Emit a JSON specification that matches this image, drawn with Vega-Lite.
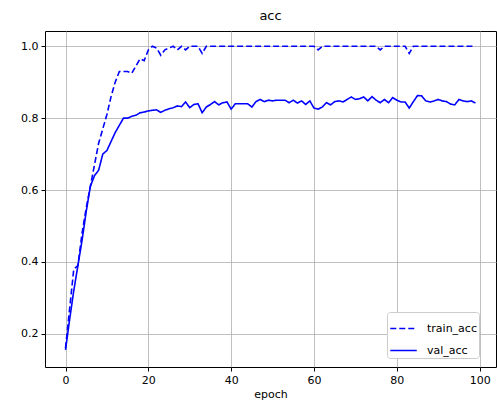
{
  "$schema": "https://vega.github.io/schema/vega-lite/v6.json",
  "width": 451,
  "height": 336,
  "autosize": {"type": "none"},
  "padding": {"left": 45, "top": 31, "right": 1, "bottom": 40},
  "title": {"text": "acc", "fontSize": 13, "font": "DejaVu Sans", "fontWeight": "normal", "color": "black", "offset": 8, "anchor": "middle"},
  "data": {"values": [
    {"epoch":0,"series":"train_acc","acc":0.16},{"epoch":1,"series":"train_acc","acc":0.27},{"epoch":2,"series":"train_acc","acc":0.38},{"epoch":3,"series":"train_acc","acc":0.39},{"epoch":4,"series":"train_acc","acc":0.48},
    {"epoch":5,"series":"train_acc","acc":0.55},{"epoch":6,"series":"train_acc","acc":0.61},{"epoch":7,"series":"train_acc","acc":0.67},{"epoch":8,"series":"train_acc","acc":0.73},{"epoch":9,"series":"train_acc","acc":0.77},
    {"epoch":10,"series":"train_acc","acc":0.81},{"epoch":11,"series":"train_acc","acc":0.86},{"epoch":12,"series":"train_acc","acc":0.90},{"epoch":13,"series":"train_acc","acc":0.93},{"epoch":14,"series":"train_acc","acc":0.93},
    {"epoch":15,"series":"train_acc","acc":0.93},{"epoch":16,"series":"train_acc","acc":0.925},{"epoch":17,"series":"train_acc","acc":0.945},{"epoch":18,"series":"train_acc","acc":0.965},{"epoch":19,"series":"train_acc","acc":0.96},
    {"epoch":20,"series":"train_acc","acc":0.99},{"epoch":21,"series":"train_acc","acc":1.0},{"epoch":22,"series":"train_acc","acc":0.995},{"epoch":23,"series":"train_acc","acc":0.975},{"epoch":24,"series":"train_acc","acc":0.99},
    {"epoch":25,"series":"train_acc","acc":0.995},{"epoch":26,"series":"train_acc","acc":1.0},{"epoch":27,"series":"train_acc","acc":0.99},{"epoch":28,"series":"train_acc","acc":1.0},{"epoch":29,"series":"train_acc","acc":0.99},
    {"epoch":30,"series":"train_acc","acc":1.0},{"epoch":31,"series":"train_acc","acc":1.0},{"epoch":32,"series":"train_acc","acc":1.0},{"epoch":33,"series":"train_acc","acc":0.98},{"epoch":34,"series":"train_acc","acc":1.0},
    {"epoch":35,"series":"train_acc","acc":1.0},{"epoch":36,"series":"train_acc","acc":1.0},{"epoch":37,"series":"train_acc","acc":1.0},{"epoch":38,"series":"train_acc","acc":1.0},{"epoch":39,"series":"train_acc","acc":1.0},
    {"epoch":40,"series":"train_acc","acc":1.0},{"epoch":41,"series":"train_acc","acc":1.0},{"epoch":42,"series":"train_acc","acc":1.0},{"epoch":43,"series":"train_acc","acc":1.0},{"epoch":44,"series":"train_acc","acc":1.0},
    {"epoch":45,"series":"train_acc","acc":1.0},{"epoch":46,"series":"train_acc","acc":1.0},{"epoch":47,"series":"train_acc","acc":1.0},{"epoch":48,"series":"train_acc","acc":1.0},{"epoch":49,"series":"train_acc","acc":1.0},
    {"epoch":50,"series":"train_acc","acc":1.0},{"epoch":51,"series":"train_acc","acc":1.0},{"epoch":52,"series":"train_acc","acc":1.0},{"epoch":53,"series":"train_acc","acc":1.0},{"epoch":54,"series":"train_acc","acc":1.0},
    {"epoch":55,"series":"train_acc","acc":1.0},{"epoch":56,"series":"train_acc","acc":1.0},{"epoch":57,"series":"train_acc","acc":1.0},{"epoch":58,"series":"train_acc","acc":1.0},{"epoch":59,"series":"train_acc","acc":1.0},
    {"epoch":60,"series":"train_acc","acc":1.0},{"epoch":61,"series":"train_acc","acc":0.99},{"epoch":62,"series":"train_acc","acc":1.0},{"epoch":63,"series":"train_acc","acc":1.0},{"epoch":64,"series":"train_acc","acc":1.0},
    {"epoch":65,"series":"train_acc","acc":1.0},{"epoch":66,"series":"train_acc","acc":1.0},{"epoch":67,"series":"train_acc","acc":1.0},{"epoch":68,"series":"train_acc","acc":1.0},{"epoch":69,"series":"train_acc","acc":1.0},
    {"epoch":70,"series":"train_acc","acc":1.0},{"epoch":71,"series":"train_acc","acc":1.0},{"epoch":72,"series":"train_acc","acc":1.0},{"epoch":73,"series":"train_acc","acc":1.0},{"epoch":74,"series":"train_acc","acc":1.0},
    {"epoch":75,"series":"train_acc","acc":1.0},{"epoch":76,"series":"train_acc","acc":0.99},{"epoch":77,"series":"train_acc","acc":1.0},{"epoch":78,"series":"train_acc","acc":1.0},{"epoch":79,"series":"train_acc","acc":1.0},
    {"epoch":80,"series":"train_acc","acc":1.0},{"epoch":81,"series":"train_acc","acc":1.0},{"epoch":82,"series":"train_acc","acc":1.0},{"epoch":83,"series":"train_acc","acc":0.98},{"epoch":84,"series":"train_acc","acc":1.0},
    {"epoch":85,"series":"train_acc","acc":1.0},{"epoch":86,"series":"train_acc","acc":1.0},{"epoch":87,"series":"train_acc","acc":1.0},{"epoch":88,"series":"train_acc","acc":1.0},{"epoch":89,"series":"train_acc","acc":1.0},
    {"epoch":90,"series":"train_acc","acc":1.0},{"epoch":91,"series":"train_acc","acc":1.0},{"epoch":92,"series":"train_acc","acc":1.0},{"epoch":93,"series":"train_acc","acc":1.0},{"epoch":94,"series":"train_acc","acc":1.0},
    {"epoch":95,"series":"train_acc","acc":1.0},{"epoch":96,"series":"train_acc","acc":1.0},{"epoch":97,"series":"train_acc","acc":1.0},{"epoch":98,"series":"train_acc","acc":1.0},{"epoch":99,"series":"train_acc","acc":1.0},
    {"epoch":0,"series":"val_acc","acc":0.155},{"epoch":1,"series":"val_acc","acc":0.24},{"epoch":2,"series":"val_acc","acc":0.32},{"epoch":3,"series":"val_acc","acc":0.39},{"epoch":4,"series":"val_acc","acc":0.46},
    {"epoch":5,"series":"val_acc","acc":0.54},{"epoch":6,"series":"val_acc","acc":0.61},{"epoch":7,"series":"val_acc","acc":0.64},{"epoch":8,"series":"val_acc","acc":0.655},{"epoch":9,"series":"val_acc","acc":0.70},
    {"epoch":10,"series":"val_acc","acc":0.71},{"epoch":11,"series":"val_acc","acc":0.735},{"epoch":12,"series":"val_acc","acc":0.76},{"epoch":13,"series":"val_acc","acc":0.78},{"epoch":14,"series":"val_acc","acc":0.80},
    {"epoch":15,"series":"val_acc","acc":0.80},{"epoch":16,"series":"val_acc","acc":0.805},{"epoch":17,"series":"val_acc","acc":0.808},{"epoch":18,"series":"val_acc","acc":0.815},{"epoch":19,"series":"val_acc","acc":0.817},
    {"epoch":20,"series":"val_acc","acc":0.82},{"epoch":21,"series":"val_acc","acc":0.822},{"epoch":22,"series":"val_acc","acc":0.823},{"epoch":23,"series":"val_acc","acc":0.816},{"epoch":24,"series":"val_acc","acc":0.822},
    {"epoch":25,"series":"val_acc","acc":0.826},{"epoch":26,"series":"val_acc","acc":0.829},{"epoch":27,"series":"val_acc","acc":0.834},{"epoch":28,"series":"val_acc","acc":0.832},{"epoch":29,"series":"val_acc","acc":0.845},
    {"epoch":30,"series":"val_acc","acc":0.829},{"epoch":31,"series":"val_acc","acc":0.838},{"epoch":32,"series":"val_acc","acc":0.84},{"epoch":33,"series":"val_acc","acc":0.815},{"epoch":34,"series":"val_acc","acc":0.831},
    {"epoch":35,"series":"val_acc","acc":0.838},{"epoch":36,"series":"val_acc","acc":0.846},{"epoch":37,"series":"val_acc","acc":0.837},{"epoch":38,"series":"val_acc","acc":0.843},{"epoch":39,"series":"val_acc","acc":0.845},
    {"epoch":40,"series":"val_acc","acc":0.825},{"epoch":41,"series":"val_acc","acc":0.84},{"epoch":42,"series":"val_acc","acc":0.84},{"epoch":43,"series":"val_acc","acc":0.84},{"epoch":44,"series":"val_acc","acc":0.84},
    {"epoch":45,"series":"val_acc","acc":0.831},{"epoch":46,"series":"val_acc","acc":0.846},{"epoch":47,"series":"val_acc","acc":0.852},{"epoch":48,"series":"val_acc","acc":0.846},{"epoch":49,"series":"val_acc","acc":0.85},
    {"epoch":50,"series":"val_acc","acc":0.848},{"epoch":51,"series":"val_acc","acc":0.85},{"epoch":52,"series":"val_acc","acc":0.85},{"epoch":53,"series":"val_acc","acc":0.85},{"epoch":54,"series":"val_acc","acc":0.843},
    {"epoch":55,"series":"val_acc","acc":0.85},{"epoch":56,"series":"val_acc","acc":0.842},{"epoch":57,"series":"val_acc","acc":0.848},{"epoch":58,"series":"val_acc","acc":0.838},{"epoch":59,"series":"val_acc","acc":0.848},
    {"epoch":60,"series":"val_acc","acc":0.828},{"epoch":61,"series":"val_acc","acc":0.825},{"epoch":62,"series":"val_acc","acc":0.831},{"epoch":63,"series":"val_acc","acc":0.843},{"epoch":64,"series":"val_acc","acc":0.837},
    {"epoch":65,"series":"val_acc","acc":0.846},{"epoch":66,"series":"val_acc","acc":0.848},{"epoch":67,"series":"val_acc","acc":0.845},{"epoch":68,"series":"val_acc","acc":0.852},{"epoch":69,"series":"val_acc","acc":0.859},
    {"epoch":70,"series":"val_acc","acc":0.852},{"epoch":71,"series":"val_acc","acc":0.854},{"epoch":72,"series":"val_acc","acc":0.859},{"epoch":73,"series":"val_acc","acc":0.848},{"epoch":74,"series":"val_acc","acc":0.86},
    {"epoch":75,"series":"val_acc","acc":0.85},{"epoch":76,"series":"val_acc","acc":0.843},{"epoch":77,"series":"val_acc","acc":0.852},{"epoch":78,"series":"val_acc","acc":0.843},{"epoch":79,"series":"val_acc","acc":0.857},
    {"epoch":80,"series":"val_acc","acc":0.85},{"epoch":81,"series":"val_acc","acc":0.845},{"epoch":82,"series":"val_acc","acc":0.845},{"epoch":83,"series":"val_acc","acc":0.828},{"epoch":84,"series":"val_acc","acc":0.846},
    {"epoch":85,"series":"val_acc","acc":0.863},{"epoch":86,"series":"val_acc","acc":0.862},{"epoch":87,"series":"val_acc","acc":0.848},{"epoch":88,"series":"val_acc","acc":0.845},{"epoch":89,"series":"val_acc","acc":0.848},
    {"epoch":90,"series":"val_acc","acc":0.852},{"epoch":91,"series":"val_acc","acc":0.848},{"epoch":92,"series":"val_acc","acc":0.846},{"epoch":93,"series":"val_acc","acc":0.839},{"epoch":94,"series":"val_acc","acc":0.837},
    {"epoch":95,"series":"val_acc","acc":0.852},{"epoch":96,"series":"val_acc","acc":0.848},{"epoch":97,"series":"val_acc","acc":0.846},{"epoch":98,"series":"val_acc","acc":0.848},{"epoch":99,"series":"val_acc","acc":0.842}
  ]},
  "mark": {"type": "line", "strokeWidth": 1.6, "clip": true},
  "encoding": {
    "x": {"field": "epoch", "type": "quantitative", "title": "epoch",
          "scale": {"domain": [-4.95, 103.95], "nice": false, "zero": false},
          "axis": {"values": [0, 20, 40, 60, 80, 100], "format": "d"}},
    "y": {"field": "acc", "type": "quantitative", "title": null,
          "scale": {"domain": [0.1075, 1.0425], "nice": false, "zero": false},
          "axis": {"values": [0.2, 0.4, 0.6, 0.8, 1.0], "format": ".1f"}},
    "color": {"field": "series", "type": "nominal", "title": null,
              "scale": {"domain": ["train_acc", "val_acc"], "range": ["#0000ff", "#0000ff"]}},
    "strokeDash": {"field": "series", "type": "nominal", "title": null,
                   "scale": {"domain": ["train_acc", "val_acc"], "range": [[6, 3], [1, 0]]}}
  },
  "config": {
    "font": "DejaVu Sans",
    "view": {"stroke": "black", "strokeWidth": 1},
    "axis": {
      "domain": false,
      "gridColor": "#b0b0b0", "gridWidth": 0.8, "gridOpacity": 1,
      "tickColor": "black", "tickSize": 4, "tickWidth": 1,
      "labelColor": "black", "labelFont": "DejaVu Sans", "labelFontSize": 11, "labelPadding": 3,
      "titleColor": "black", "titleFont": "DejaVu Sans", "titleFontSize": 11, "titleFontWeight": "normal", "titlePadding": 3
    },
    "legend": {
      "orient": "none", "legendX": 342, "legendY": 281,
      "fillColor": "white", "strokeColor": "#cccccc", "cornerRadius": 3,
      "padding": 2, "symbolType": "stroke", "symbolSize": 700, "symbolStrokeWidth": 1.6,
      "labelFont": "DejaVu Sans", "labelFontSize": 11, "labelColor": "black", "labelOffset": 9,
      "rowPadding": 2
    }
  }
}
